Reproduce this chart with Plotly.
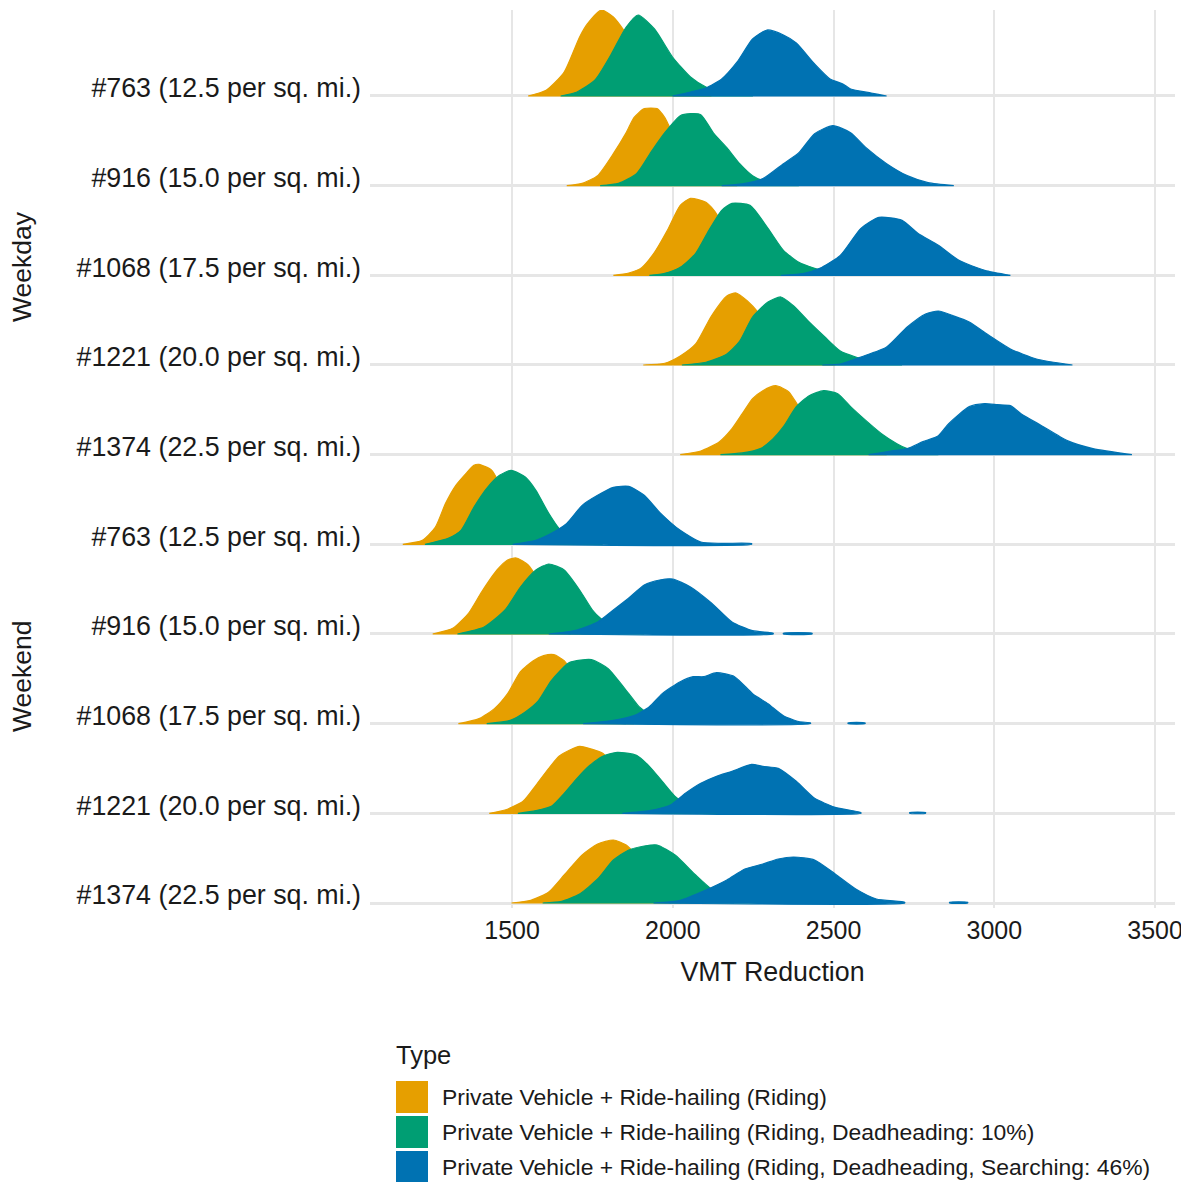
import plotly.graph_objects as go

# ---------------- data ----------------
X_TICKS = [1500, 2000, 2500, 3000, 3500]
GROUPS = ["Weekday", "Weekend"]
ROW_LABELS = [
    "#763 (12.5 per sq. mi.)", "#916 (15.0 per sq. mi.)", "#1068 (17.5 per sq. mi.)",
    "#1221 (20.0 per sq. mi.)", "#1374 (22.5 per sq. mi.)",
    "#763 (12.5 per sq. mi.)", "#916 (15.0 per sq. mi.)", "#1068 (17.5 per sq. mi.)",
    "#1221 (20.0 per sq. mi.)", "#1374 (22.5 per sq. mi.)",
]
TYPES = [
    "Private Vehicle + Ride-hailing (Riding)",
    "Private Vehicle + Ride-hailing (Riding, Deadheading: 10%)",
    "Private Vehicle + Ride-hailing (Riding, Deadheading, Searching: 46%)",
]

# relative density curves (x = VMT reduction, d = relative density); None = gap
# Weekday #763
WD763_A_X = [1550, 1606, 1662, 1710, 1734, 1778, 1815, 1847, 1879, 1927, 1991, 2055, 2120]
WD763_A_D = [0, 5.7, 24, 59, 72, 86, 79, 66, 50, 30, 12, 3, 0]
WD763_B_X = [1651, 1702, 1758, 1807, 1855, 1892, 1943, 1999, 2055, 2103, 2152, 2200, 2249]
WD763_B_D = [0, 4, 16, 41, 69, 81, 67, 39, 19, 9, 4, 1, 0]
WD763_C_X = [1999, 2055, 2103, 2152, 2200, 2248, 2293, 2344, 2384, 2441, 2489, 2529, 2553, 2617, 2665]
WD763_C_D = [0, 4, 8, 17, 34, 57, 66, 61, 53, 32, 17, 12, 7, 3, 0]
# Weekday #916
WD916_A_X = [1670, 1718, 1766, 1815, 1855, 1879, 1911, 1951, 1975, 1991, 2023, 2071, 2136, 2200]
WD916_A_D = [0, 2.3, 10, 32, 53, 68, 77, 77, 68, 58, 40, 20, 6, 0]
WD916_B_X = [1774, 1831, 1887, 1935, 1975, 2023, 2055, 2087, 2128, 2168, 2208, 2248, 2280, 2328, 2392]
WD916_B_D = [0, 2.3, 12, 35, 53, 70, 72, 71, 52, 38, 22, 10, 5, 2, 0]
WD916_C_X = [2152, 2216, 2280, 2344, 2392, 2441, 2498, 2553, 2601, 2665, 2729, 2794, 2874]
WD916_C_D = [0, 1.7, 7, 22, 33, 52, 60, 53, 38, 22, 10, 3, 0]
# Weekday #1068
WD1068_A_X = [1815, 1863, 1903, 1943, 1983, 2023, 2055, 2103, 2128, 2168, 2216, 2280, 2344]
WD1068_A_D = [0, 2.3, 7.7, 23, 45, 70, 77, 73, 65, 45, 22, 7, 0]
WD1068_B_X = [1927, 1975, 2023, 2071, 2112, 2152, 2184, 2240, 2296, 2344, 2392, 2441, 2489, 2553]
WD1068_B_D = [0, 2, 8, 22, 45, 65, 72, 70, 47, 25, 13, 7, 3, 0]
WD1068_C_X = [2336, 2408, 2457, 2521, 2585, 2641, 2713, 2762, 2826, 2890, 2970, 3050]
WD1068_C_D = [0, 2, 7, 20, 47, 58, 55, 42, 30, 15, 5, 0]
# Weekday #1221
WD1221_A_X = [1908, 1975, 2023, 2071, 2120, 2168, 2197, 2232, 2264, 2312, 2376, 2441, 2505]
WD1221_A_D = [0, 1.7, 9, 21, 49, 69, 72, 64, 53, 30, 10, 2, 0]
WD1221_B_X = [2028, 2103, 2168, 2208, 2248, 2296, 2336, 2376, 2424, 2473, 2521, 2569, 2617, 2665, 2713]
WD1221_B_D = [0, 2.7, 11, 24, 48, 63, 68, 59, 43, 28, 14, 8, 4, 1, 0]
WD1221_C_X = [2465, 2521, 2585, 2665, 2729, 2786, 2826, 2874, 2922, 2986, 3050, 3131, 3243]
WD1221_C_D = [0, 1, 8, 18, 38, 51, 54, 49, 43, 29, 16, 6, 0]
# Weekday #1374
WD1374_A_X = [2023, 2087, 2144, 2184, 2216, 2248, 2280, 2320, 2360, 2392, 2441, 2505, 2585, 2665]
WD1374_A_D = [0, 3.7, 12.7, 26, 41, 56, 64, 69, 63, 48, 30, 12, 3, 0]
WD1374_B_X = [2148, 2216, 2272, 2312, 2344, 2384, 2424, 2469, 2513, 2553, 2601, 2649, 2697, 2729, 2778, 2826]
WD1374_B_D = [0, 1.7, 6, 16, 28, 48, 59, 64, 61, 48, 34, 21, 11, 6, 2, 0]
WD1374_C_X = [2609, 2681, 2729, 2778, 2826, 2858, 2922, 2970, 3010, 3050, 3083, 3147, 3227, 3307, 3428]
WD1374_C_D = [0, 3.7, 6, 13, 19, 31, 48, 51, 50, 49, 41, 29, 14, 6, 0]
# Weekend #763
WE763_A_X = [1160, 1221, 1261, 1293, 1325, 1357, 1381, 1397, 1437, 1470, 1518, 1574, 1638, 1702]
WE763_A_D = [0, 4, 17, 41, 59, 71, 79, 80, 74, 55, 30, 10, 2, 0]
WE763_B_X = [1229, 1301, 1341, 1381, 1421, 1461, 1497, 1542, 1574, 1614, 1646, 1686, 1734, 1782]
WE763_B_D = [0, 6, 14, 37, 56, 69, 74, 67, 54, 31, 16, 6, 1, 0]
WE763_C_X = [1502, 1574, 1622, 1670, 1718, 1766, 1815, 1863, 1911, 1959, 2023, 2087, 2152, 2245]
WE763_C_D = [0, 4, 11, 21, 39, 49, 57, 58, 49, 32, 14, 2.3, 1, 0.8]
# Weekend #916
WE916_A_X = [1253, 1317, 1365, 1405, 1453, 1486, 1513, 1550, 1590, 1638, 1702, 1766, 1815]
WE916_A_D = [0, 6, 21, 42, 64, 74, 76, 69, 50, 25, 8, 1, 0]
WE916_B_X = [1330, 1413, 1478, 1526, 1574, 1614, 1662, 1710, 1750, 1774, 1815, 1863, 1911]
WE916_B_D = [0, 7, 24, 47, 64, 70, 64, 44, 24, 16, 6, 2, 0]
WE916_C_X = [1614, 1702, 1766, 1815, 1863, 1911, 1959, 1999, 2055, 2120, 2184, 2248, 2312, None, 2344, 2433]
WE916_C_D = [0, 4, 12, 24, 36, 49, 54, 55, 47, 31, 12, 3.3, 0.8, None, 0.8, 0.8]
# Weekend #1068
WE1068_A_X = [1333, 1397, 1445, 1486, 1526, 1566, 1598, 1630, 1662, 1702, 1750, 1815, 1879]
WE1068_A_D = [0, 5, 15, 30, 52, 63, 68, 69, 63, 45, 22, 6, 0]
WE1068_B_X = [1421, 1494, 1542, 1582, 1622, 1678, 1747, 1799, 1831, 1863, 1895, 1935, 1983, 2039]
WE1068_B_D = [0, 3.3, 12, 23, 43, 61, 64, 55, 43, 30, 17, 8, 2, 0]
WE1068_C_X = [1721, 1815, 1879, 1927, 1967, 2023, 2063, 2095, 2136, 2192, 2248, 2296, 2344, 2392, 2428, None, 2545, 2598]
WE1068_C_D = [0, 3.3, 8, 17, 30, 42, 47, 47, 51, 47, 30, 20, 8, 2, 0.8, None, 0.8, 0.8]
# Weekend #1221
WE1221_A_X = [1429, 1478, 1534, 1574, 1614, 1646, 1678, 1710, 1750, 1782, 1823, 1871, 1935, 2007]
WE1221_A_D = [0, 3.3, 12, 28, 45, 57, 63, 67, 64, 60, 45, 25, 8, 0]
WE1221_B_X = [1518, 1574, 1622, 1662, 1702, 1742, 1782, 1827, 1887, 1927, 1967, 2007, 2047, 2095, 2152]
WE1221_B_D = [0, 2.7, 7, 20, 35, 48, 57, 61, 58, 47, 32, 17, 8, 3, 0]
WE1221_C_X = [1843, 1927, 1991, 2039, 2087, 2136, 2184, 2245, 2280, 2328, 2384, 2441, 2505, 2585, None, 2737, 2786]
WE1221_C_D = [0, 2.7, 8, 20, 30, 37, 42, 49, 47, 45, 32, 15, 6, 0.8, None, 0.8, 0.8]
# Weekend #1374
WE1374_A_X = [1498, 1558, 1614, 1662, 1718, 1766, 1815, 1855, 1895, 1951, 2023, 2103]
WE1374_A_D = [0, 2.7, 11, 28, 48, 59, 63, 58, 45, 25, 8, 0]
WE1374_B_X = [1595, 1654, 1710, 1766, 1815, 1863, 1911, 1951, 2007, 2071, 2120, 2168, 2216, 2280]
WE1374_B_D = [0, 1.7, 9, 24, 43, 53, 57, 58, 48, 28, 14, 6, 2, 0]
WE1374_C_X = [1940, 2023, 2103, 2168, 2224, 2280, 2328, 2376, 2441, 2505, 2569, 2633, 2721, None, 2861, 2917]
WE1374_C_D = [0, 2.7, 13, 23, 34, 39, 44, 46, 43, 29, 14, 4, 0.8, None, 0.8, 0.8]

CURVES = [  # one entry per row, top to bottom: (riding, +deadheading, +searching)
    [(WD763_A_X, WD763_A_D), (WD763_B_X, WD763_B_D), (WD763_C_X, WD763_C_D)],
    [(WD916_A_X, WD916_A_D), (WD916_B_X, WD916_B_D), (WD916_C_X, WD916_C_D)],
    [(WD1068_A_X, WD1068_A_D), (WD1068_B_X, WD1068_B_D), (WD1068_C_X, WD1068_C_D)],
    [(WD1221_A_X, WD1221_A_D), (WD1221_B_X, WD1221_B_D), (WD1221_C_X, WD1221_C_D)],
    [(WD1374_A_X, WD1374_A_D), (WD1374_B_X, WD1374_B_D), (WD1374_C_X, WD1374_C_D)],
    [(WE763_A_X, WE763_A_D), (WE763_B_X, WE763_B_D), (WE763_C_X, WE763_C_D)],
    [(WE916_A_X, WE916_A_D), (WE916_B_X, WE916_B_D), (WE916_C_X, WE916_C_D)],
    [(WE1068_A_X, WE1068_A_D), (WE1068_B_X, WE1068_B_D), (WE1068_C_X, WE1068_C_D)],
    [(WE1221_A_X, WE1221_A_D), (WE1221_B_X, WE1221_B_D), (WE1221_C_X, WE1221_C_D)],
    [(WE1374_A_X, WE1374_A_D), (WE1374_B_X, WE1374_B_D), (WE1374_C_X, WE1374_C_D)],
]

# ---------------- style ----------------
COLORS = ["#E69F00", "#009E73", "#0072B2"]
FONT = "Liberation Sans, Arial, Helvetica, sans-serif"
TEXT = "#1a1a1a"
GRID = "#e6e6e6"
SCALE = 1 / 89.67          # density units -> row units
N = len(ROW_LABELS)

OFF = 8                    # page body margin
W, H = 1189 - OFF, 1182 - OFF
L, R, T, B = 370 - OFF, 14, 10 - OFF, 274
PW, PH = W - L - R, H - T - B


def px_to_paper(px, py):
    """reference-image pixel -> paper coordinates"""
    px -= OFF
    py -= OFF
    return (px - L) / PW, (H - B - py) / PH


def segments(xs, ds):
    segs, cx, cd = [], [], []
    for x, d in zip(xs, ds):
        if x is None:
            if cx:
                segs.append((cx, cd))
            cx, cd = [], []
        else:
            cx.append(x)
            cd.append(d)
    if cx:
        segs.append((cx, cd))
    return segs


fig = go.Figure()
for r, row in enumerate(CURVES):
    base = N - 1 - r
    for k, (xs, ds) in enumerate(row):
        px, py = [], []
        for sx, sd in segments(xs, ds):
            px += sx + [sx[-1], sx[0], sx[0]]
            py += [base + d * SCALE for d in sd] + [base, base, base + sd[0] * SCALE]
            px.append(None)
            py.append(None)
        fig.add_trace(go.Scatter(
            x=px, y=py, mode="lines", fill="toself", fillcolor=COLORS[k],
            line=dict(color=COLORS[k], width=1.2, shape="spline", smoothing=0.6),
            hoverinfo="skip", showlegend=False,
        ))

fig.update_layout(
    width=W, height=H,
    margin=dict(l=L, r=R, t=T, b=B),
    plot_bgcolor="white", paper_bgcolor="white",
    font=dict(family=FONT, color=TEXT),
    showlegend=False,
    xaxis=dict(
        range=[1058, 3562], tickvals=X_TICKS, ticktext=[str(v) for v in X_TICKS],
        showgrid=True, gridcolor=GRID, gridwidth=2, zeroline=False, showline=False,
        ticks="", tickfont=dict(size=25, color=TEXT), ticklabelstandoff=5,
        title=dict(text="VMT Reduction", font=dict(size=26.8, color=TEXT), standoff=19),
    ),
    yaxis=dict(
        range=[-0.0558, 9.959], tickvals=list(range(N - 1, -1, -1)), ticktext=ROW_LABELS,
        showgrid=True, gridcolor=GRID, gridwidth=2.5, zeroline=False, showline=False,
        ticks="", tickfont=dict(size=26.8, color=TEXT), ticklabelshift=-8, ticklabelstandoff=8,
    ),
)

# facet strip labels
for txt, py in zip(GROUPS, [267, 677]):
    xp, yp = px_to_paper(22, py)
    fig.add_annotation(x=xp, y=yp, xref="paper", yref="paper", text=txt, textangle=-90,
                       showarrow=False, font=dict(size=26.5, color=TEXT),
                       xanchor="center", yanchor="middle")

# legend (drawn manually to match key size)
xp, yp = px_to_paper(394, 1055)
fig.add_annotation(x=xp, y=yp, xref="paper", yref="paper", text="Type", showarrow=False,
                   font=dict(size=25.5, color=TEXT), xanchor="left", yanchor="middle")
for i, (name, col) in enumerate(zip(TYPES, COLORS)):
    cy = 1097 + 35 * i
    x0, y0 = px_to_paper(396, cy - 16)
    x1, y1 = px_to_paper(428, cy + 16)
    fig.add_shape(type="rect", xref="paper", yref="paper", x0=x0, x1=x1, y0=y1, y1=y0,
                  fillcolor=col, line=dict(width=0))
    tx, ty = px_to_paper(440, cy)
    fig.add_annotation(x=tx, y=ty, xref="paper", yref="paper", text=name, showarrow=False,
                       font=dict(size=22.9, color=TEXT), xanchor="left", yanchor="middle")

fig.write_html("out.html")
